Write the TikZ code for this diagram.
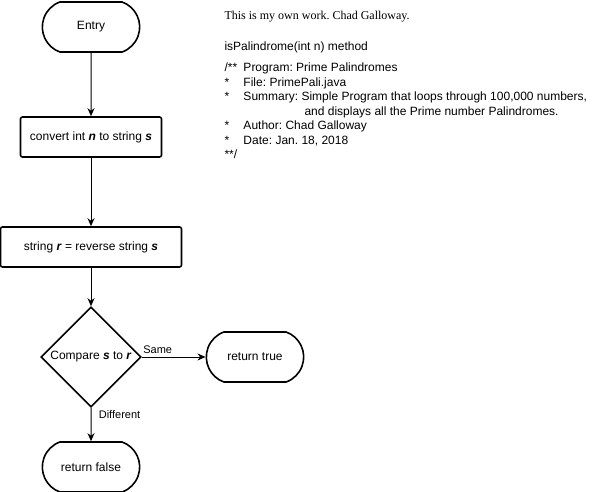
\documentclass[tikz,border=0pt]{standalone}
\usepackage{fontspec}
\setmainfont{Liberation Sans}
\newfontfamily\timesfont{Liberation Serif}
\usepackage{tikz}
\usetikzlibrary{positioning,shapes.misc,shapes.geometric,arrows.meta}
\newcommand{\var}[1]{\textbf{\textit{#1}}}
\frenchspacing

\begin{document}
\begin{tikzpicture}[->,>={Stealth[length=8pt,width=7pt,inset=2.5pt]},
                    line width=1pt,node distance=110pt,
                    font=\fontsize{12}{14}\selectfont]
  \tikzstyle{term}=[rounded rectangle, rounded rectangle arc length=140,
                    draw, line width=1.6pt, minimum width=104pt, minimum height=50pt]
  \tikzstyle{proc}=[rectangle, rounded corners=2pt, draw, line width=1.6pt,
                    minimum height=40pt]
  \tikzstyle{decision}=[diamond, draw, line width=1.6pt, minimum width=100pt,
                    minimum height=100pt, inner sep=0pt]
  \tikzstyle{edgelabel}=[font=\fontsize{11}{13}\selectfont]
  \tikzstyle{note}=[anchor=base west, inner sep=0pt]

  \useasboundingbox (0,0) rectangle (602pt,-492pt);

  \node[term]                     (entry) at (91pt,-27pt) {Entry};
  \node[proc, minimum width=141pt] (conv) [below of = entry] {convert int \var{n} to string \var{s}};
  \node[proc, minimum width=181pt] (rev)  [below of = conv]  {string \var{r} = reverse string \var{s}};
  \node[decision, label={center:Compare \var{s} to \var{r}}] (cmp) [below of = rev] {};
  \node[term] (rtrue)  [right of = cmp, node distance=164pt] {return true};
  \node[term] (rfalse) [below of = cmp] {return false};

  \path (entry) edge (conv)
        (conv)  edge (rev)
        (rev)   edge (cmp)
        (cmp.east)  edge node[edgelabel, above, pos=0.25] {Same} (rtrue)
        (cmp.south) edge node[edgelabel, right, pos=0.2, xshift=4pt] {Different} (rfalse);

  % comment block
  \node[note] (own)  at (224pt,-20pt) {\timesfont This is my own work. Chad Galloway.};
  \node[note] (meth) at (224pt,-51pt) {isPalindrome(int n) method};
  \foreach \mark/\txt [count=\i from 0] in {{/**}/{Program: Prime Palindromes},
      {*}/{File: PrimePali.java},
      {*}/{Summary: Simple Program that loops through 100,000 numbers,},
      {}/{\hspace{61pt}and displays all the Prime number Palindromes.},
      {*}/{Author: Chad Galloway},
      {*}/{Date: Jan. 18, 2018},
      {**/}/{}}
    \node[note] (line\i) at (224pt,-72pt-14.4pt*\i) {\makebox[19pt][l]{\mark}\txt};
\end{tikzpicture}
\end{document}
